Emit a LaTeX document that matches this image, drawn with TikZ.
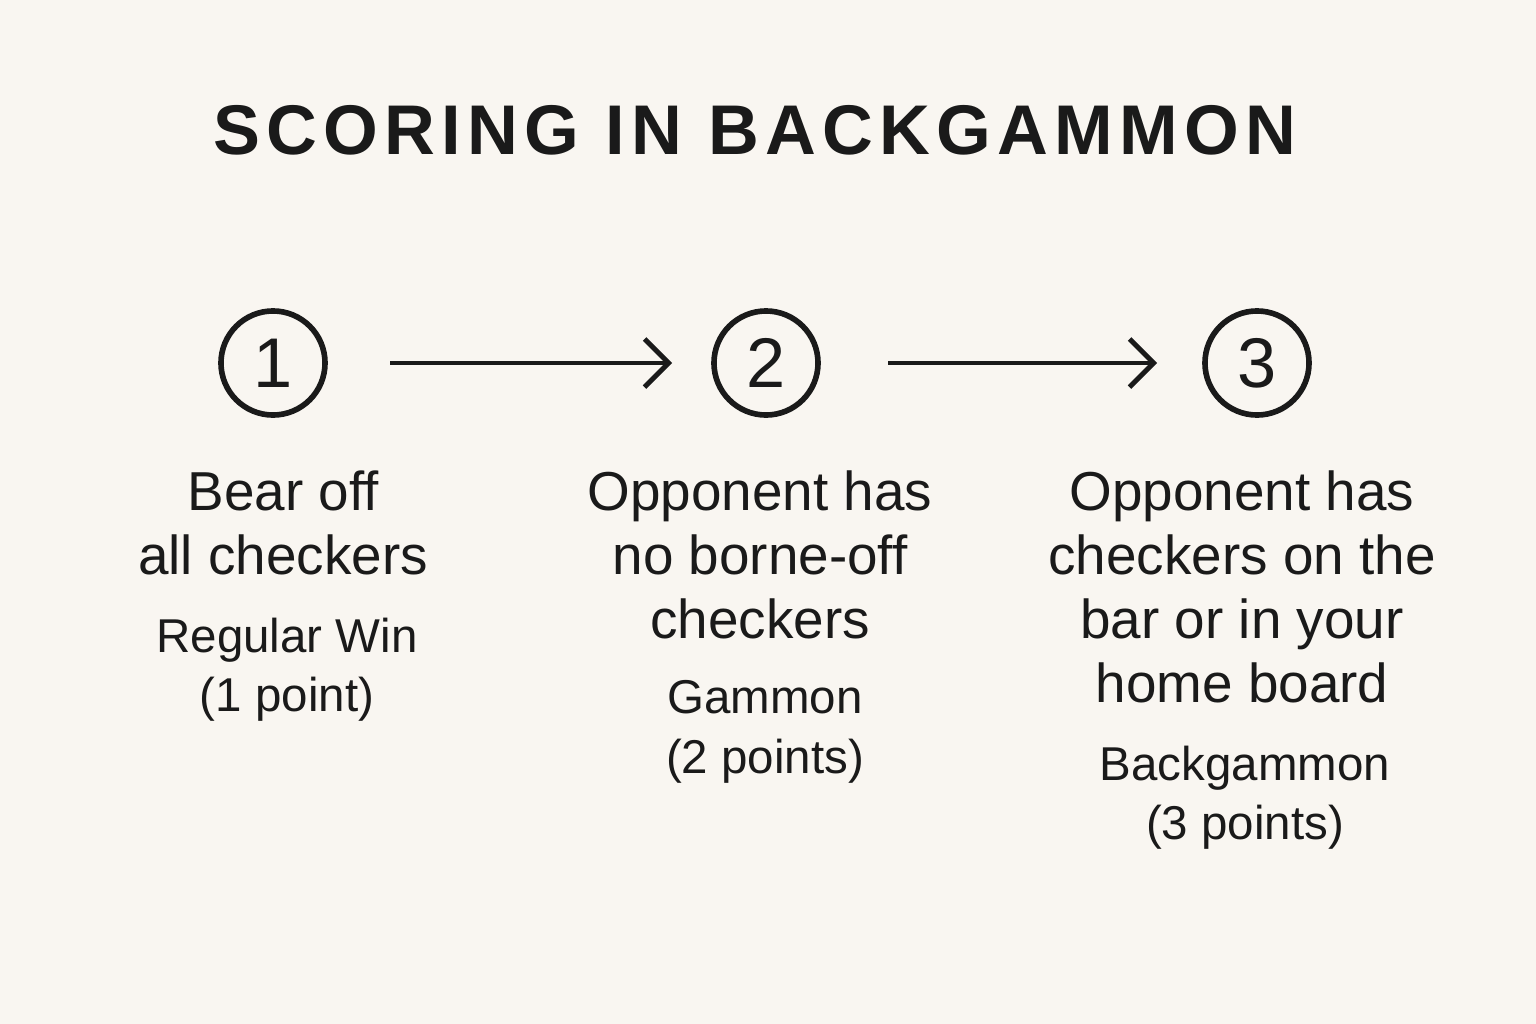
\documentclass[tikz,border=0pt]{standalone}
\usepackage{fontspec}
\setmainfont{Liberation Sans}
\usetikzlibrary{positioning,arrows.meta}
\definecolor{paper}{HTML}{F9F6F1}
\definecolor{ink}{HTML}{1A1A1A}
\tikzset{
  step circle/.style={circle,draw=ink,line width=1.6pt,minimum size=1.04cm,inner sep=0pt,font=\fontsize{20}{22}\selectfont,text=ink},
  flow/.style={-{Straight Barb[length=2.4mm,width=4.8mm]},draw=ink,line width=1.4pt},
  main text/.style={align=center,text=ink,font=\fontsize{15.6}{18.2}\selectfont,inner sep=0pt},
  sub text/.style={align=center,text=ink,font=\fontsize{13.5}{17}\selectfont,inner sep=0pt}
}
\begin{document}
\begin{tikzpicture}[x=0.01cm,y=-0.01cm]
\fill[paper] (0,0) rectangle (1536,1024);
\useasboundingbox (0,0) rectangle (1536,1024);
\node[text=ink,font=\fontsize{20}{24}\selectfont\bfseries] (title) at (755,130)
  {\addfontfeature{LetterSpace=9}SCORING IN BACKGAMMON};

\node[step circle] (s1) at (273,363) {1};
\node[step circle] (s2) at (766,363) {2};
\node[step circle] (s3) at (1257,363) {3};
\coordinate (a1) at (390,363);
\coordinate (b1) at (672,363);
\coordinate (a2) at (888,363);
\coordinate (b2) at (1157,363);
\draw[flow] (a1) -- (b1);
\draw[flow] (a2) -- (b2);

% texts under each step
\node[main text,anchor=north] (t1) at (283,470) {Bear off\\all checkers};
\node[sub text,anchor=north] (u1) at (287,617) {Regular Win\\(1 point)};
\node[main text,anchor=north] (t2) at (760,470) {Opponent has\\no borne-off\\checkers};
\node[sub text,anchor=north] (u2) at (765,680) {Gammon\\(2 points)};
\node[main text,anchor=north] (t3) at (1242,470) {Opponent has\\checkers on the\\bar or in your\\home board};
\node[sub text,anchor=north] (u3) at (1245,745) {Backgammon\\(3 points)};
\end{tikzpicture}
\end{document}
